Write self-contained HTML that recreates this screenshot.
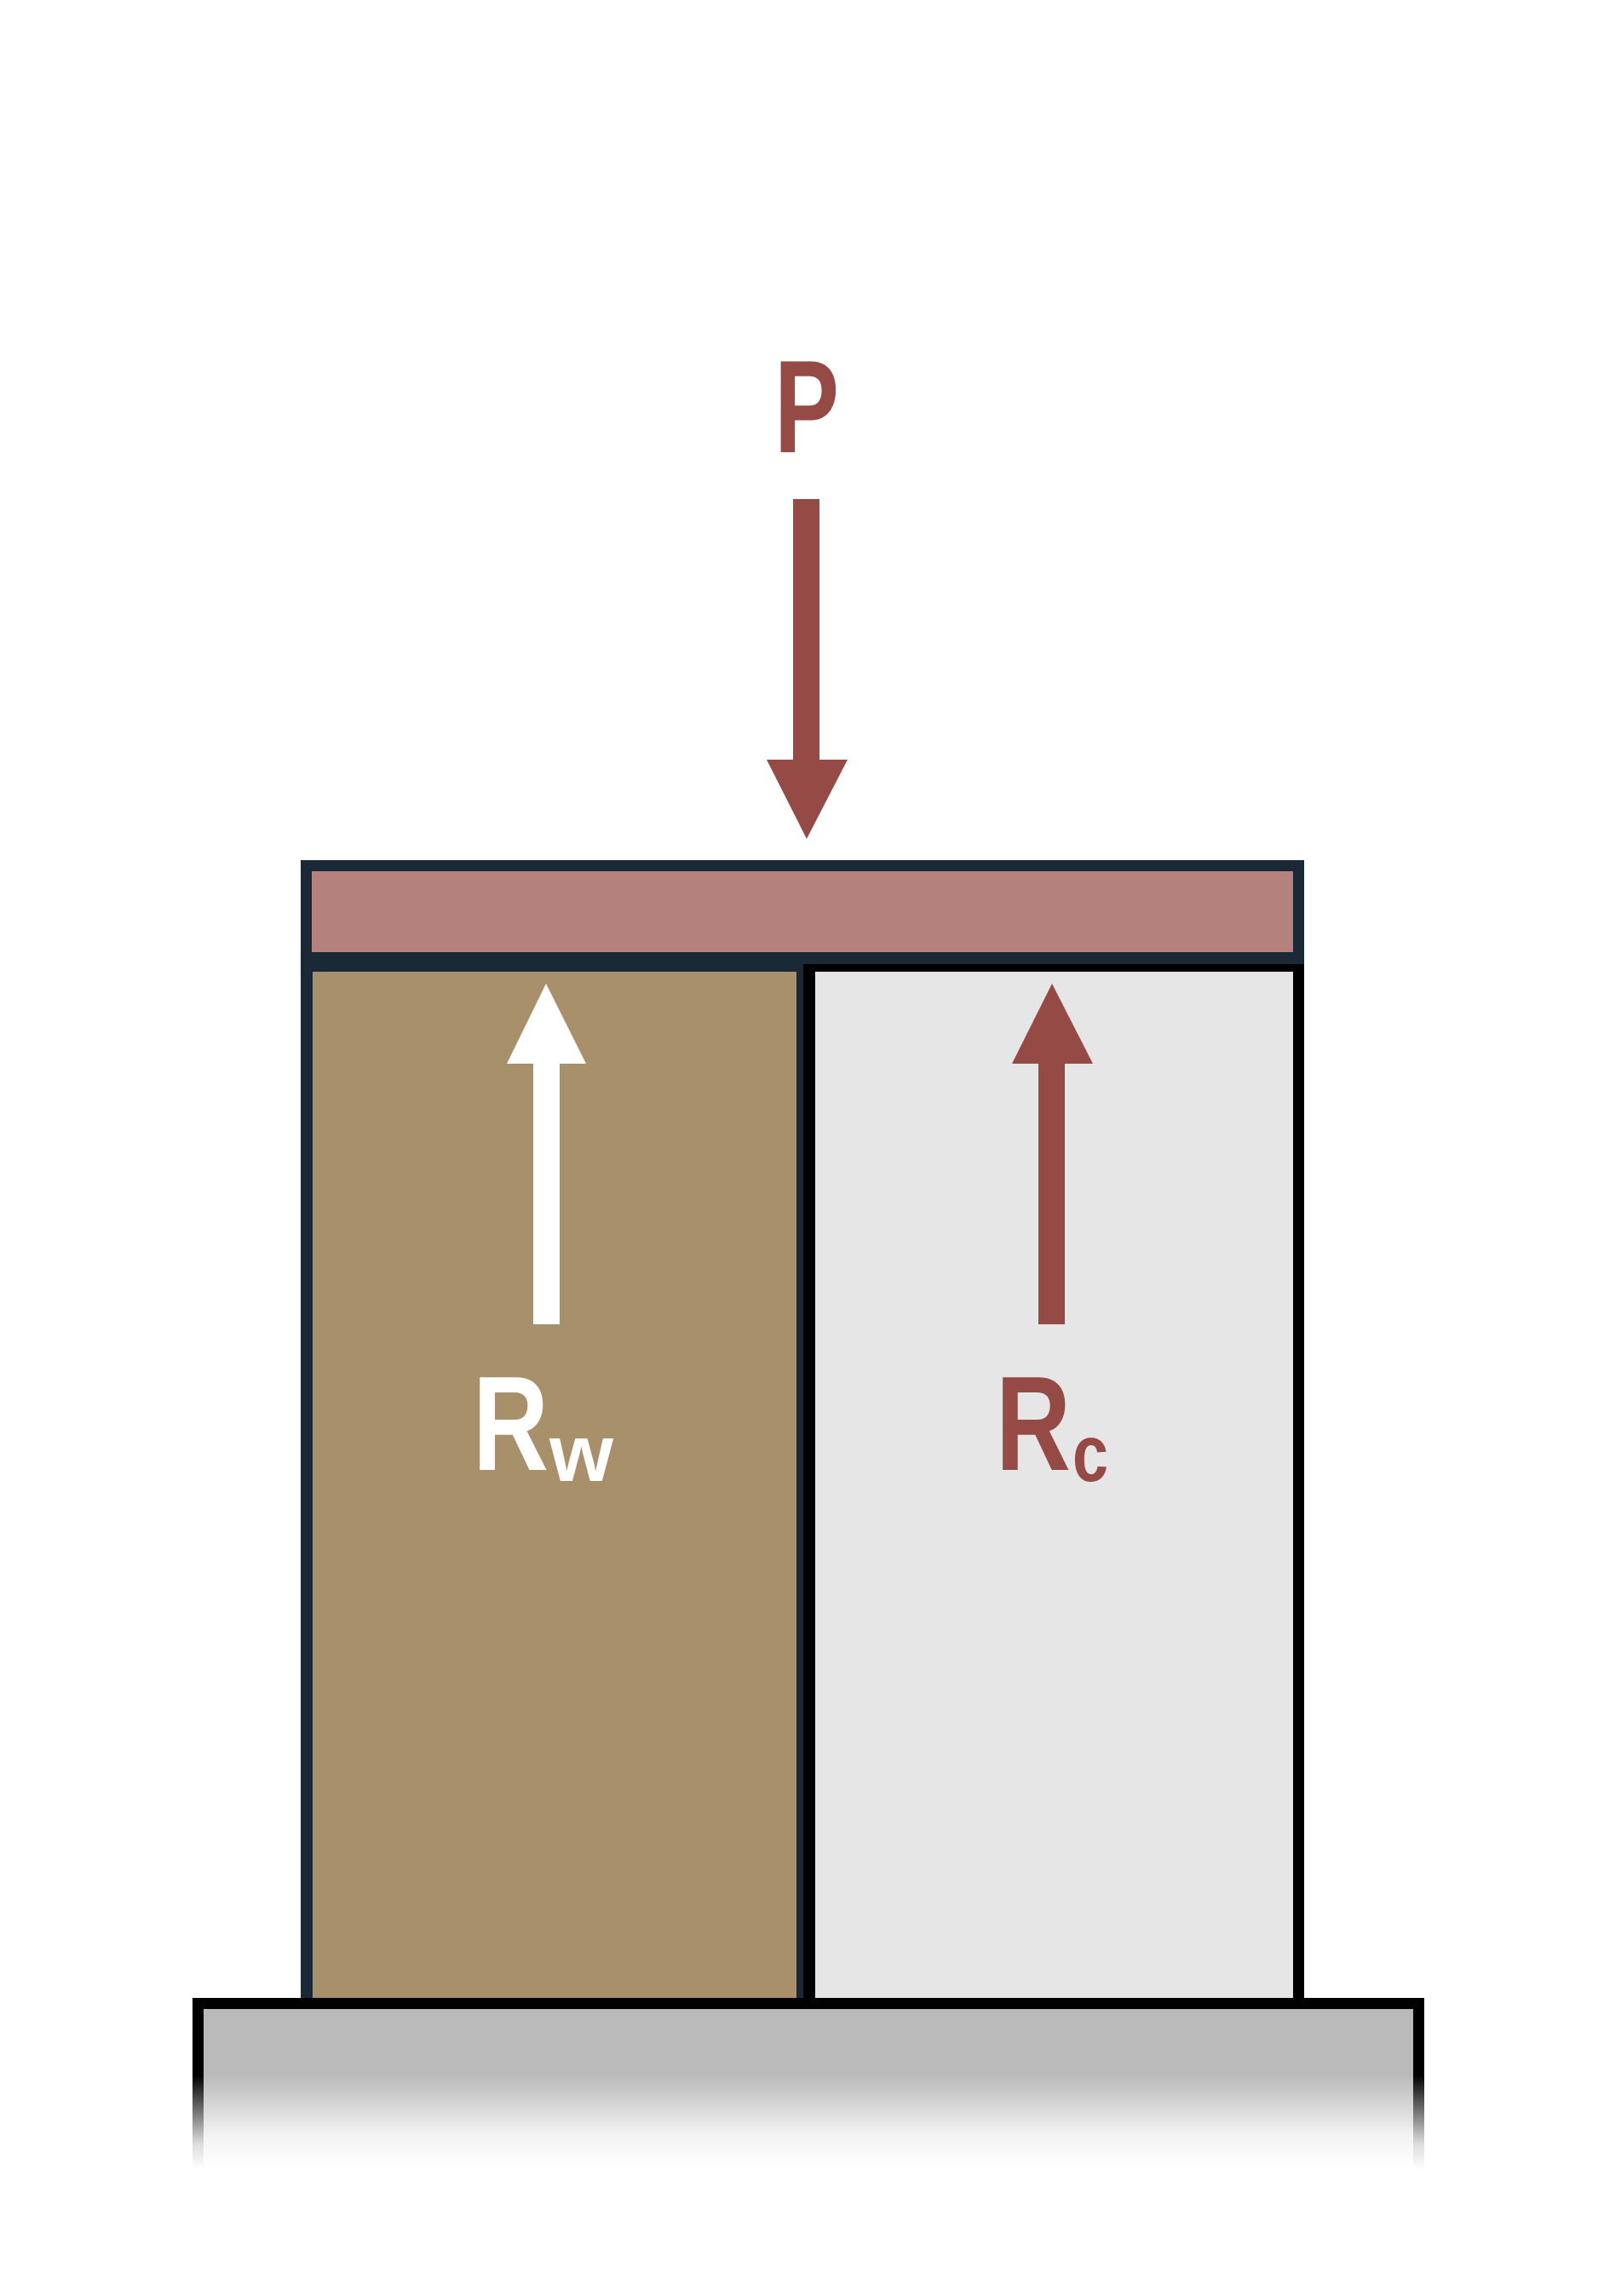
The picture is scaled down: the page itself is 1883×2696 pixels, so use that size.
<!DOCTYPE html>
<html><head><meta charset="utf-8"><style>html,body{margin:0;padding:0;background:#fff}svg{display:block}</style></head>
<body>
<svg width="1883" height="2696" viewBox="0 0 1883 2696">
<defs>
<linearGradient id="gfill" gradientUnits="userSpaceOnUse" x1="0" y1="2346" x2="0" y2="2548">
<stop offset="0" stop-color="#b9b9b9"/><stop offset="0.45" stop-color="#bababa"/><stop offset="0.8" stop-color="#f3f3f3"/><stop offset="1" stop-color="#ffffff"/>
</linearGradient>
<linearGradient id="gborder" gradientUnits="userSpaceOnUse" x1="0" y1="2346" x2="0" y2="2548">
<stop offset="0" stop-color="#000"/><stop offset="0.45" stop-color="#000"/><stop offset="0.85" stop-color="#ddd"/><stop offset="1" stop-color="#fff"/>
</linearGradient>
</defs>
<g>
<rect x="226" y="2346" width="1446" height="210" fill="url(#gborder)"/>
<rect x="239" y="2359" width="1420" height="200" fill="url(#gfill)"/>
</g>
<rect x="353" y="1128" width="590" height="1218" fill="#192a36"/>
<rect x="367" y="1141" width="568" height="1205" fill="#a8906b"/>
<rect x="943" y="1132" width="588" height="1214" fill="#000"/>
<rect x="957" y="1141" width="561" height="1205" fill="#e6e6e6"/>
<rect x="353" y="1010" width="1178" height="122" fill="#192a36"/>
<rect x="366" y="1023" width="1152" height="95" fill="#b5817c"/>
<g fill="#954a45">
<rect x="931" y="586" width="31" height="307"/>
<polygon points="900,892 995,892 947,985"/>
</g>
<text x="947" y="531" text-anchor="middle" font-family="Liberation Sans, sans-serif" font-weight="bold" font-size="155" fill="#954a45" textLength="76" lengthAdjust="spacingAndGlyphs">P</text>
<g fill="#fff">
<rect x="626" y="1248" width="31" height="307"/>
<polygon points="595,1249 688,1249 641,1155"/>
</g>
<text font-family="Liberation Sans, sans-serif" font-weight="bold" fill="#fff"><tspan x="555" y="1726" font-size="158" textLength="89" lengthAdjust="spacingAndGlyphs">R</tspan><tspan x="645" y="1739" font-size="95" textLength="75" lengthAdjust="spacingAndGlyphs">w</tspan></text>
<g fill="#954a45">
<rect x="1219" y="1248" width="31" height="307"/>
<polygon points="1188,1249 1283,1249 1235,1155"/>
</g>
<text font-family="Liberation Sans, sans-serif" font-weight="bold" fill="#954a45"><tspan x="1169" y="1726" font-size="158" textLength="88" lengthAdjust="spacingAndGlyphs">R</tspan><tspan x="1259" y="1739" font-size="95" textLength="42" lengthAdjust="spacingAndGlyphs">c</tspan></text>
</svg>
</body></html>
